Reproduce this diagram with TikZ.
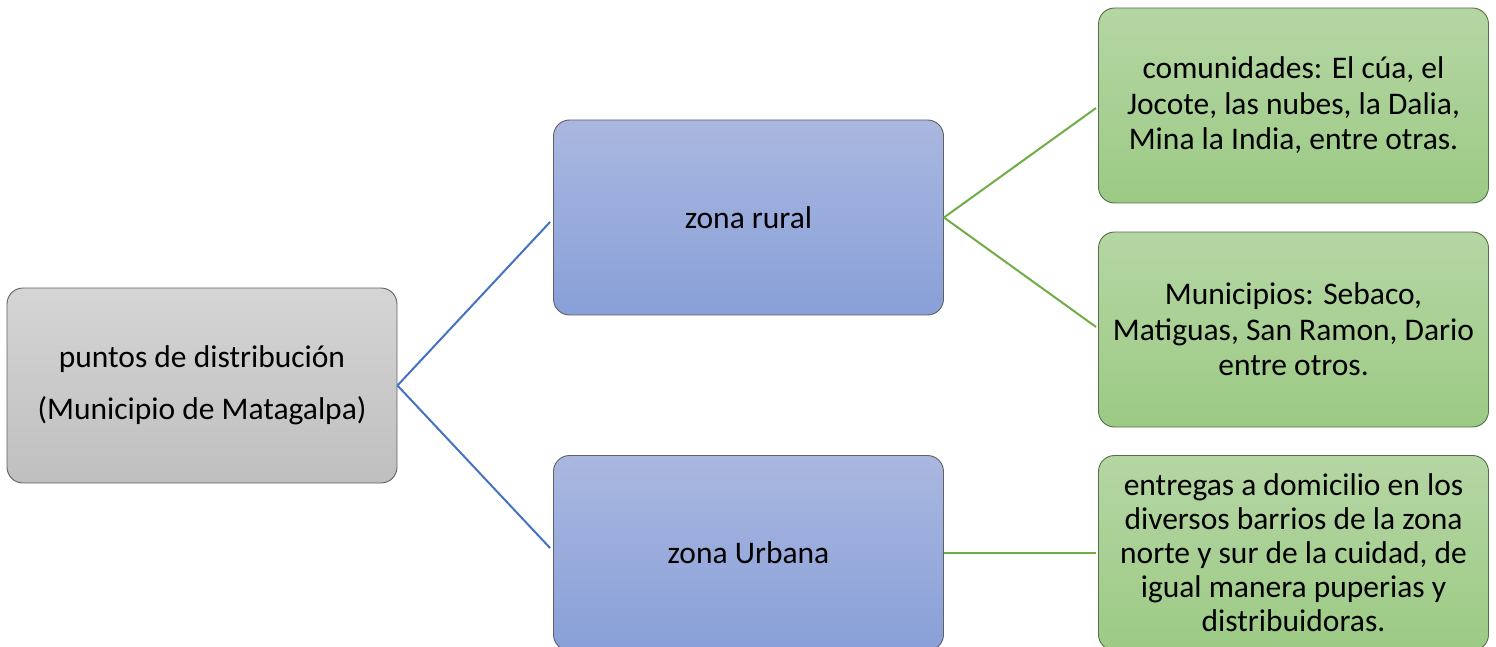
\documentclass[tikz,border=0pt]{standalone}
\usepackage{fontspec}
\setmainfont{Carlito}
\begin{document}
\begin{tikzpicture}[x=1pt,y=-1pt,
  box/.style={rectangle, rounded corners=16pt, minimum width=390pt, minimum height=195pt,
    draw=black!62, line width=0.9pt, align=center, inner sep=2pt,
    font=\fontsize{31.5}{35.5}\selectfont, text=black},
  graybox/.style={box, top color=gray!33, bottom color=gray!50},
  bluebox/.style={box, top color={rgb,255:red,170;green,183;blue,224}, bottom color={rgb,255:red,136;green,160;blue,216}},
  greenbox/.style={box, draw={rgb,255:red,85;green,110;blue,75}, top color={rgb,255:red,181;green,214;blue,164}, bottom color={rgb,255:red,156;green,202;blue,132}},
  blueline/.style={draw={rgb,255:red,68;green,114;blue,196}, line width=2pt},
  greenline/.style={draw={rgb,255:red,112;green,173;blue,71}, line width=2pt}]
\clip (0,0) rectangle (1496,647);
\useasboundingbox (0,0) rectangle (1496,647);

% first level
\node[graybox, font=\fontsize{31.5}{52}\selectfont] (root) at (202,385.5)
  {puntos de distribución\\(Municipio de Matagalpa)};

% second level
\node[bluebox] (rural) at (748.5,217.5) {zona rural};
\node[bluebox] (urbana) at (748.5,553) {zona Urbana};

% third level
\node[greenbox] (com) at (1293.5,105.5)
  {comunidades: El cúa, el\\Jocote, las nubes, la Dalia,\\Mina la India, entre otras.};
\node[greenbox] (mun) at (1293.5,329.5)
  {Municipios: Sebaco,\\Matiguas, San Ramon, Dario\\entre otros.};
\node[greenbox, font=\fontsize{31.5}{34}\selectfont] (ent) at (1293.5,553)
  {entregas a domicilio en los\\diversos barrios de la zona\\norte y sur de la cuidad, de\\igual manera puperias y\\distribuidoras.};

% connectors
\draw[blueline] (root.east) -- ([xshift=-3pt,yshift=-4.5pt]rural.west);
\draw[blueline] (root.east) -- ([xshift=-3pt,yshift=5pt]urbana.west);
\draw[greenline] (rural.east) -- ([xshift=-2pt,yshift=-2.5pt]com.west);
\draw[greenline] (rural.east) -- ([xshift=-2pt,yshift=2.5pt]mun.west);
\draw[greenline] (urbana.east) -- ([xshift=-2pt]ent.west);
\end{tikzpicture}
\end{document}
